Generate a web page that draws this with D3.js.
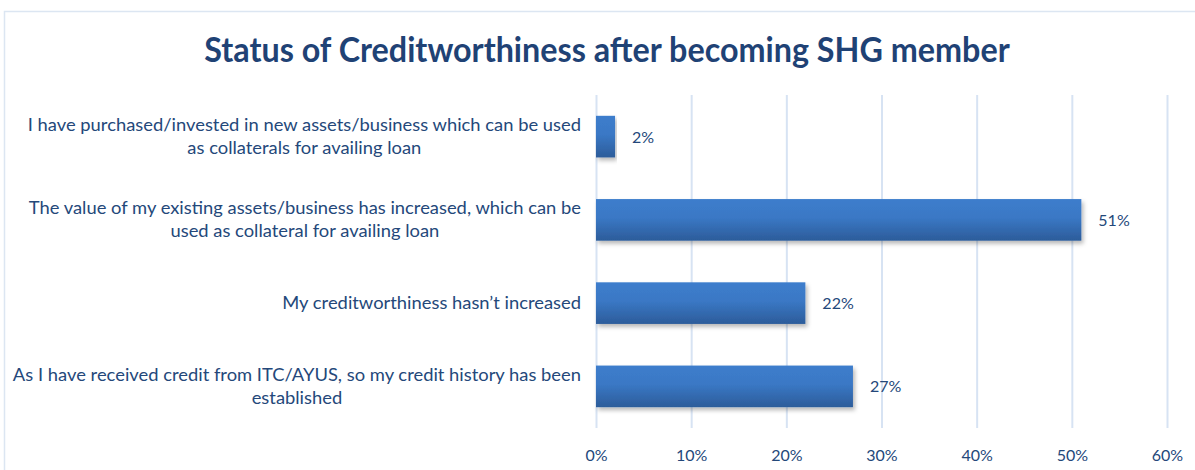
<!DOCTYPE html>
<html>
<head>
<meta charset="utf-8">
<script src="https://cdn.jsdelivr.net/npm/d3@7"></script>
<style>
  html, body { margin: 0; padding: 0; background: #fff; }
  svg { display: block; }
</style>
</head>
<body>
<svg id="chart" width="1195" height="470"></svg>
<script>
// Survey responses, top to bottom
const categories = [
  "I have purchased/invested in new assets/business which can be used|as collaterals for availing loan",
  "The value of my existing assets/business has increased, which can be|used as collateral for availing loan",
  "My creditworthiness hasn\u2019t increased",
  "As I have received credit from ITC/AYUS, so my credit history has been|established"
];
const shares = [0.02, 0.51, 0.22, 0.27];
const xTicks = [0, 0.1, 0.2, 0.3, 0.4, 0.5, 0.6];
const titleText = "Status of Creditworthiness after becoming SHG member";

const svg = d3.select("#chart");
const W = 1195, H = 470;
const margin = { top: 95, right: 28, bottom: 42, left: 596 };
const textColor = "#24487A";
const font = "Lato, 'Open Sans', sans-serif";

// frame
svg.append("rect")
  .attr("x", 4.5).attr("y", 11.5)
  .attr("width", W + 10).attr("height", H + 10)
  .attr("fill", "none").attr("stroke", "#DCE6F2").attr("stroke-width", 1.5);

const defs = svg.append("defs");
const grad = defs.append("linearGradient").attr("id", "barGrad")
  .attr("x1", 0).attr("y1", 0).attr("x2", 0).attr("y2", 1);
grad.append("stop").attr("offset", "0%").attr("stop-color", "#3D7DCC");
grad.append("stop").attr("offset", "45%").attr("stop-color", "#3A78C5");
grad.append("stop").attr("offset", "100%").attr("stop-color", "#2C5C9A");
const shadow = defs.append("filter").attr("id", "barShadow")
  .attr("x", "-5%").attr("y", "-20%").attr("width", "115%").attr("height", "160%");
shadow.append("feDropShadow").attr("dx", 2).attr("dy", 3).attr("stdDeviation", 2)
  .attr("flood-color", "#000").attr("flood-opacity", 0.28);

const x = d3.scaleLinear().domain([0, 0.6]).range([margin.left, W - margin.right]);
const y = d3.scaleBand().domain(categories).range([margin.top, H - margin.bottom])
  .paddingInner(0.5).paddingOuter(0.25);

// vertical gridlines + tick labels via axis
const xAxis = d3.axisBottom(x).tickValues(xTicks).tickFormat(d3.format(".0%"))
  .tickSize(-(H - margin.bottom - margin.top)).tickPadding(22);
const gx = svg.append("g").attr("transform", `translate(0,${H - margin.bottom})`).call(xAxis);
gx.select(".domain").remove();
gx.selectAll(".tick line").attr("stroke", "#D7E3F3").attr("stroke-width", 2);
gx.selectAll(".tick text").attr("fill", textColor).attr("font-family", font)
  .attr("font-size", 16);

// bars
svg.append("g").selectAll("rect").data(categories).join("rect")
  .attr("x", x(0))
  .attr("y", d => y(d))
  .attr("width", (d, i) => x(shares[i]) - x(0))
  .attr("height", y.bandwidth())
  .attr("fill", "url(#barGrad)")
  .attr("filter", "url(#barShadow)");

// value labels
svg.append("g").selectAll("text").data(categories).join("text")
  .attr("x", (d, i) => x(shares[i]) + 17)
  .attr("y", d => y(d) + y.bandwidth() / 2 + 6)
  .attr("fill", textColor).attr("font-family", font).attr("font-size", 16)
  .text((d, i) => d3.format(".0%")(shares[i]));

// category labels: lines centred within the block, block right-aligned
const labelRight = 581, lineH = 23, labelSize = 18, stretch = 1.02;
categories.forEach(c => {
  const lines = c.split("|");
  const g = svg.append("g");
  const texts = lines.map((ln, k) => g.append("text")
    .attr("font-family", font).attr("font-size", labelSize)
    .attr("fill", textColor).attr("text-anchor", "middle").text(ln));
  const widths = texts.map(t => t.node().getComputedTextLength() * stretch);
  const blockW = d3.max(widths);
  const cx = labelRight - blockW / 2;
  const cy = y(c) + y.bandwidth() / 2;
  const top = cy - (lines.length * lineH) / 2;
  texts.forEach((t, k) => {
    t.attr("x", cx).attr("y", top + k * lineH + lineH / 2 + 6)
      .attr("textLength", widths[k]).attr("lengthAdjust", "spacingAndGlyphs");
  });
});

// title
const title = svg.append("text")
  .attr("x", 607).attr("y", 62)
  .attr("text-anchor", "middle")
  .attr("font-family", font).attr("font-weight", 700).attr("font-size", 34)
  .attr("fill", "#1F4275").text(titleText);
const tw = title.node().getComputedTextLength();
title.attr("textLength", tw * 0.95).attr("lengthAdjust", "spacingAndGlyphs");
</script>
</body>
</html>
